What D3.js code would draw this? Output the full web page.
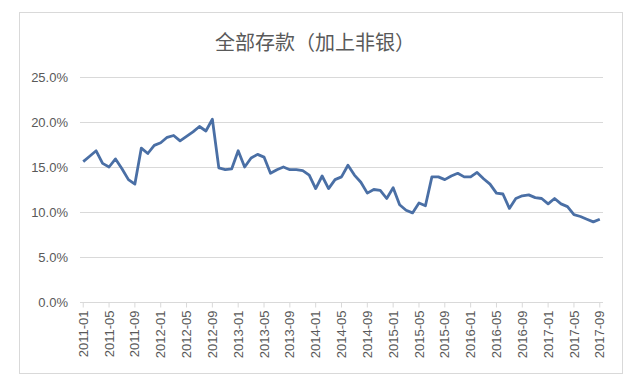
<!DOCTYPE html>
<html>
<head>
<meta charset="utf-8">
<script src="https://cdn.jsdelivr.net/npm/d3@7"></script>
<style>
  body { margin: 0; background: #fff; }
  svg { display: block; }
</style>
</head>
<body>
<svg id="chart" width="637" height="386"></svg>
<script>
"use strict";

// monthly, 2011-01 .. 2017-09
const months = [];
for (let y = 2011; y <= 2017; y++) {
    for (let m = 1; m <= 12; m++) {
        if (y === 2017 && m > 9) break;
        months.push(y + "-" + String(m).padStart(2, "0"));
    }
}

const values = [
    15.6, 16.2, 16.8, 15.4, 15.0, 15.9, 14.8, 13.6, 13.1, 17.1,
    16.5, 17.4, 17.7, 18.3, 18.5, 17.9, 18.4, 18.9, 19.5, 19.0,
    20.3, 14.9, 14.7, 14.8, 16.8, 15.0, 16.0, 16.4, 16.1, 14.3,
    14.7, 15.0, 14.7, 14.7, 14.6, 14.1, 12.6, 14.0, 12.6, 13.6,
    13.9, 15.2, 14.1, 13.3, 12.1, 12.5, 12.4, 11.5, 12.7, 10.8,
    10.2, 9.9, 11.0, 10.7, 13.9, 13.9, 13.6, 14.0, 14.3, 13.9,
    13.9, 14.4, 13.7, 13.1, 12.1, 12.0, 10.4, 11.5, 11.8, 11.9,
    11.6, 11.5, 10.9, 11.5, 10.9, 10.6, 9.7, 9.5, 9.2, 8.9,
    9.2
];

const yTicks = [0, 5, 10, 15, 20, 25];
const title = "全部存款（加上非银）";

const svg = d3.select("#chart");
const grey = "#595959";

// chart frame
svg.append("rect")
    .attr("x", 19.5).attr("y", 12.5)
    .attr("width", 603).attr("height", 361)
    .attr("fill", "#fff")
    .attr("stroke", "#d9d9d9");

svg.append("text")
    .attr("x", 315).attr("y", 50)
    .attr("text-anchor", "middle")
    .attr("font-family", "'Noto Sans CJK SC', sans-serif")
    .attr("font-size", 20)
    .attr("fill", grey)
    .text(title);

const x = d3.scaleBand().domain(months).range([80, 603]);
const y = d3.scaleLinear().domain([0, 25]).range([302, 77]);
const cx = (d) => x(d) + x.bandwidth() / 2;

// gridlines
svg.append("g")
    .selectAll("line")
    .data(yTicks.filter(d => d > 0))
    .join("line")
    .attr("x1", 80).attr("x2", 603)
    .attr("y1", d => Math.round(y(d)) + 0.5)
    .attr("y2", d => Math.round(y(d)) + 0.5)
    .attr("stroke", "#d9d9d9");

// y labels
svg.append("g")
    .selectAll("text")
    .data(yTicks)
    .join("text")
    .attr("x", 68)
    .attr("y", d => y(d) + 4.5)
    .attr("text-anchor", "end")
    .attr("font-family", "'Liberation Sans', Arial, sans-serif")
    .attr("font-size", 13)
    .attr("fill", grey)
    .text(d => d.toFixed(1) + "%");

// x axis
const labelled = months.filter((d, i) => i % 4 === 0);
const xAxis = svg.append("g")
    .attr("transform", "translate(0," + (Math.round(y(0)) + 0.5) + ")")
    .call(d3.axisBottom(x).tickValues(labelled).tickSize(5).tickPadding(4));
xAxis.select("path").attr("stroke", "#d9d9d9").attr("d", "M80,0H603");
xAxis.selectAll(".tick line").attr("stroke", "#d9d9d9");
xAxis.selectAll(".tick text")
    .attr("transform", "rotate(-90)")
    .attr("text-anchor", "end")
    .attr("x", -8)
    .attr("y", 0)
    .attr("dy", "0.35em")
    .attr("font-family", "'Liberation Sans', Arial, sans-serif")
    .attr("font-size", 13)
    .attr("fill", grey);

// series
const line = d3.line()
    .x((d, i) => cx(months[i]))
    .y(d => y(d));

svg.append("path")
    .datum(values)
    .attr("d", line)
    .attr("fill", "none")
    .attr("stroke", "#4a6fa5")
    .attr("stroke-width", 2.8)
    .attr("stroke-linejoin", "round");
</script>
</body>
</html>
